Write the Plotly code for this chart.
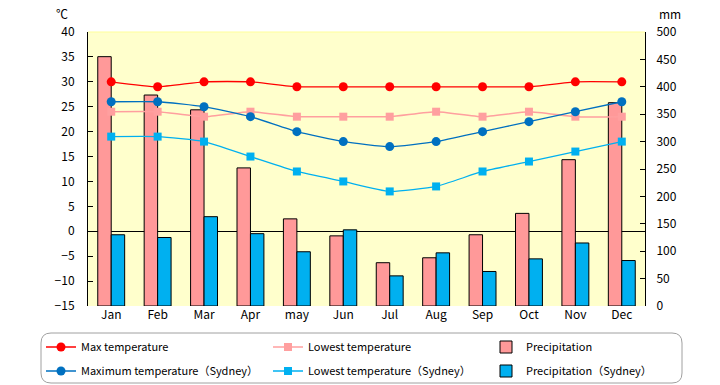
import plotly.graph_objects as go

months = ["Jan", "Feb", "Mar", "Apr", "may", "Jun", "Jul", "Aug", "Sep", "Oct", "Nov", "Dec"]
max_temp = [30, 29, 30, 30, 29, 29, 29, 29, 29, 29, 30, 30]
low_temp = [24, 24, 23, 24, 23, 23, 23, 24, 23, 24, 23, 23]
precip = [455, 385, 358, 252, 159, 128, 79, 88, 130, 169, 267, 371]
max_syd = [26, 26, 25, 23, 20, 18, 17, 18, 20, 22, 24, 26]
low_syd = [19, 19, 18, 15, 12, 10, 8, 9, 12, 14, 16, 18]
precip_syd = [130, 125, 163, 132, 99, 139, 55, 97, 63, 86, 115, 83]

FONT = "Noto Sans CJK JP, Liberation Sans, sans-serif"
W, H = 720, 385
ML, MR, MT, MB = 88, 75, 32, 79
PW, PH = W - ML - MR, H - MT - MB


def px(x):
    return (x - ML) / PW


def py(y):
    return (H - MB - y) / PH


def cx(x):
    return x / W


def cy(y):
    return 1 - y / H


fig = go.Figure()

fig.add_trace(go.Bar(x=months, y=precip, name="Precipitation", yaxis="y",
                     marker=dict(color="#FF9999", line=dict(color="black", width=1)),
                     legend="legend3"))
fig.add_trace(go.Bar(x=months, y=precip_syd, name="Precipitation（Sydney）", yaxis="y",
                     marker=dict(color="#00B0F0", line=dict(color="black", width=1)),
                     legend="legend6"))

line_kw = dict(mode="lines+markers", yaxis="y2")
fig.add_trace(go.Scatter(x=months, y=max_temp, name="Max temperature",
                         line=dict(color="#FF0000", width=1.3, shape="spline", smoothing=0.5),
                         marker=dict(symbol="circle", size=9, color="#FF0000"),
                         legend="legend", **line_kw))
fig.add_trace(go.Scatter(x=months, y=low_temp, name="Lowest temperature",
                         line=dict(color="#FF9F9F", width=1.5, shape="spline", smoothing=0.5),
                         marker=dict(symbol="square", size=8, color="#FF9F9F"),
                         legend="legend2", **line_kw))
fig.add_trace(go.Scatter(x=months, y=max_syd, name="Maximum temperature（Sydney）",
                         line=dict(color="#0070C0", width=1.3, shape="spline", smoothing=0.5),
                         marker=dict(symbol="circle", size=9, color="#0070C0"),
                         legend="legend4", **line_kw))
fig.add_trace(go.Scatter(x=months, y=low_syd, name="Lowest temperature（Sydney）",
                         line=dict(color="#00B0F0", width=1.3, shape="spline", smoothing=0.5),
                         marker=dict(symbol="square", size=8, color="#00B0F0"),
                         legend="legend5", **line_kw))

tickfont = dict(family=FONT, size=12, color="black")
leg_common = dict(orientation="v", xanchor="left", yanchor="middle", xref="container",
                  yref="container", bgcolor="rgba(0,0,0,0)", borderwidth=0,
                  font=dict(family=FONT, size=11, color="black"), itemwidth=30)

col_x = [41, 268, 486]
row_y = [347, 371]
legends = {}
names = ["legend", "legend2", "legend3", "legend4", "legend5", "legend6"]
for i, nm in enumerate(names):
    legends[nm] = dict(x=cx(col_x[i % 3]), y=cy(row_y[i // 3]), **leg_common)

x0, x1, y0, y1, r = px(41), px(682), py(333), py(383), 10
rx, ry = r / PW, r / PH
path = (f"M {x0+rx},{y0} L {x1-rx},{y0} Q {x1},{y0} {x1},{y0-ry} "
        f"L {x1},{y1+ry} Q {x1},{y1} {x1-rx},{y1} L {x0+rx},{y1} "
        f"Q {x0},{y1} {x0},{y1+ry} L {x0},{y0-ry} Q {x0},{y0} {x0+rx},{y0} Z")

fig.update_layout(
    width=W, height=H,
    margin=dict(l=ML, r=MR, t=MT, b=MB, pad=0, autoexpand=False),
    paper_bgcolor="white", plot_bgcolor="#FFFFCC",
    barmode="group", bargap=0.42, bargroupgap=0,
    font=dict(family=FONT, size=12, color="black"),
    xaxis=dict(type="category", range=[-0.5, len(months) - 0.5], showgrid=False, ticks="",
               showline=False, zeroline=False, tickfont=tickfont, fixedrange=True,
               automargin=False),
    yaxis=dict(range=[0, 500], dtick=50, side="right", showgrid=False, zeroline=False,
               showline=True, linecolor="black", linewidth=1, ticks="inside", ticklen=5,
               tickcolor="black", tickfont=tickfont, ticklabelstandoff=8, automargin=False),
    yaxis2=dict(range=[-15, 40], dtick=5, side="left", overlaying="y", showgrid=False,
                zeroline=True, zerolinecolor="black", zerolinewidth=1.2,
                showline=True, linecolor="black", linewidth=1, ticks="inside", ticklen=5,
                tickcolor="black", tickfont=tickfont, ticklabelstandoff=10, automargin=False),
    showlegend=True,
    shapes=[
        dict(type="path", path=path, xref="paper", yref="paper",
             line=dict(color="#A0A0A0", width=1), fillcolor="white", layer="below"),
        dict(type="line", xref="paper", yref="paper", x0=0, x1=1, y0=1, y1=1,
             line=dict(color="#FFFF99", width=1)),
    ],
    annotations=[
        dict(text="℃", xref="paper", yref="paper", x=px(62), y=py(14), showarrow=False,
             font=dict(family=FONT, size=12), xanchor="center", yanchor="middle"),
        dict(text="mm", xref="paper", yref="paper", x=px(670), y=py(14), showarrow=False,
             font=dict(family=FONT, size=12), xanchor="center", yanchor="middle"),
    ],
    **legends,
)

fig.write_html("out.html", config={"displayModeBar": False},
               post_script="document.body.style.margin='0';document.body.style.overflow='hidden';")
